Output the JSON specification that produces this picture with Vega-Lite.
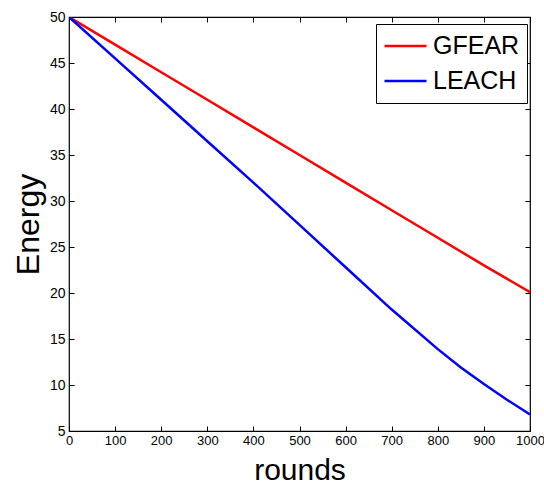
{
  "$schema": "https://vega.github.io/schema/vega-lite/v6.json",
  "autosize": "none",
  "width": 461,
  "height": 414,
  "padding": {"left": 69, "top": 17, "right": 14, "bottom": 57},
  "background": "white",
  "config": {
    "font": "Liberation Sans",
    "view": {"stroke": "black", "strokeWidth": 1.2},
    "axis": {"grid": false, "domain": false, "tickColor": "black", "labelColor": "black", "titleColor": "black", "titleFontWeight": "normal"}
  },
  "data": {"values": [
    {"rounds": 0, "energy": 50, "series": "GFEAR"},
    {"rounds": 100, "energy": 47.0, "series": "GFEAR"},
    {"rounds": 200, "energy": 44.0, "series": "GFEAR"},
    {"rounds": 300, "energy": 41.0, "series": "GFEAR"},
    {"rounds": 400, "energy": 38.0, "series": "GFEAR"},
    {"rounds": 500, "energy": 35.0, "series": "GFEAR"},
    {"rounds": 600, "energy": 32.0, "series": "GFEAR"},
    {"rounds": 700, "energy": 29.0, "series": "GFEAR"},
    {"rounds": 800, "energy": 26.0, "series": "GFEAR"},
    {"rounds": 900, "energy": 23.0, "series": "GFEAR"},
    {"rounds": 1000, "energy": 20.1, "series": "GFEAR"},
    {"rounds": 0, "energy": 50, "series": "LEACH"},
    {"rounds": 100, "energy": 45.5, "series": "LEACH"},
    {"rounds": 200, "energy": 41.0, "series": "LEACH"},
    {"rounds": 300, "energy": 36.5, "series": "LEACH"},
    {"rounds": 400, "energy": 32.0, "series": "LEACH"},
    {"rounds": 500, "energy": 27.4, "series": "LEACH"},
    {"rounds": 600, "energy": 22.8, "series": "LEACH"},
    {"rounds": 700, "energy": 18.2, "series": "LEACH"},
    {"rounds": 800, "energy": 13.9, "series": "LEACH"},
    {"rounds": 850, "energy": 11.9, "series": "LEACH"},
    {"rounds": 900, "energy": 10.1, "series": "LEACH"},
    {"rounds": 950, "energy": 8.4, "series": "LEACH"},
    {"rounds": 1000, "energy": 6.8, "series": "LEACH"}
  ]},
  "layer": [
    {
      "mark": {"type": "line", "strokeWidth": 2.5, "clip": true},
      "encoding": {
        "x": {"field": "rounds", "type": "quantitative", "scale": {"domain": [0, 1000], "nice": false},
              "axis": {"values": [0,100,200,300,400,500,600,700,800,900,1000], "format": "d", "tickSize": -5, "labelPadding": 8, "labelFontSize": 13, "title": "rounds", "titleFontSize": 30, "titlePadding": 8, "labelFlush": false}},
        "y": {"field": "energy", "type": "quantitative", "scale": {"domain": [5, 50], "nice": false, "zero": false},
              "axis": {"values": [5,10,15,20,25,30,35,40,45,50], "tickSize": -5, "labelPadding": 9, "labelFontSize": 14, "title": "Energy", "titleFontSize": 32, "titlePadding": 4}},
        "color": {"field": "series", "type": "nominal",
                  "scale": {"domain": ["GFEAR", "LEACH"], "range": ["#ff0000", "#0000ff"]},
                  "legend": {"title": null, "orient": "none", "legendX": 307, "legendY": 7, "symbolType": "stroke", "symbolSize": 1764, "symbolStrokeWidth": 2.5, "labelFontSize": 25, "labelColor": "black", "strokeColor": "black", "fillColor": "white", "padding": 7, "rowPadding": 5, "clipHeight": 30, "labelOffset": 5}}
      }
    },
    {
      "mark": {"type": "line", "opacity": 0},
      "encoding": {
        "x": {"field": "rounds", "type": "quantitative", "axis": {"orient": "top", "values": [0,100,200,300,400,500,600,700,800,900,1000], "tickSize": -5, "labels": false, "title": null}},
        "y": {"field": "energy", "type": "quantitative", "axis": {"orient": "right", "values": [5,10,15,20,25,30,35,40,45,50], "tickSize": -5, "labels": false, "title": null}}
      }
    }
  ],
  "resolve": {"axis": {"x": "independent", "y": "independent"}}
}
